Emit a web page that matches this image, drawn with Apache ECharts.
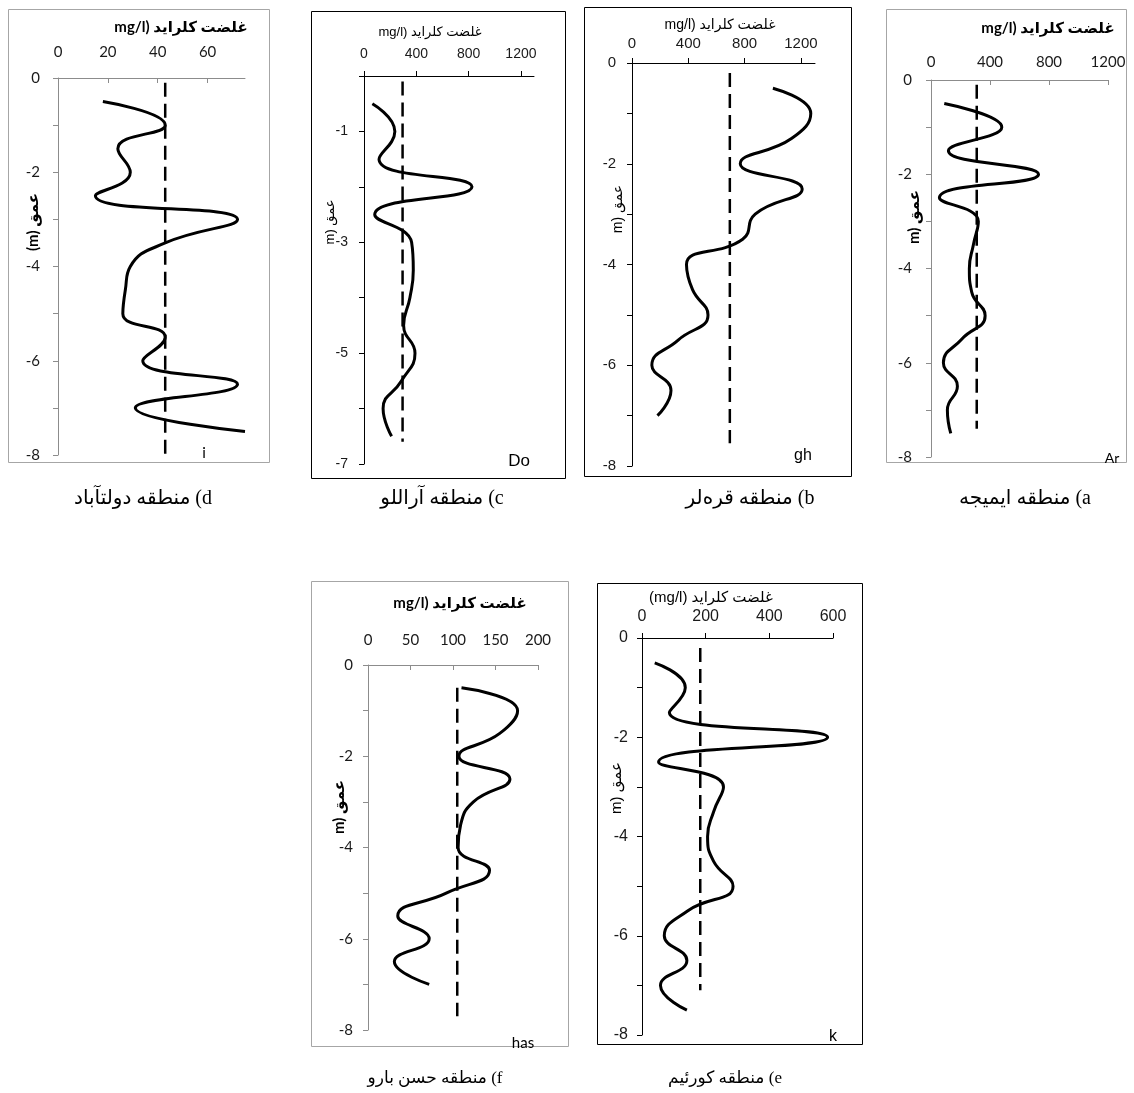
<!DOCTYPE html>
<html><head><meta charset="utf-8">
<script src="https://cdn.jsdelivr.net/npm/echarts@6/dist/echarts.min.js"></script>
<style>html,body{margin:0;padding:0;background:#fff}#c{width:1134px;height:1093px}</style>
</head><body><div id="c"></div>
<script>
// ---------- DATA ----------
// a) Imije
const depthsA = [-0.5,-1,-1.5,-2,-2.5,-3,-3.5,-4,-4.5,-5,-5.5,-6,-6.5,-7,-7.5];
const chlorideA = [90,480,118,729,57,321,287,260,276,367,208,84,179,111,134];
const meanA = 310;
const meanDepthA = [-0.1,-7.4];
const xTicksA = [0,400,800,1200];
const yTicksA = [0,-1,-2,-3,-4,-5,-6,-7,-8];
const yLabelsA = [0,-2,-4,-6,-8];
// b) Gharehlar
const depthsB = [-0.5,-1,-1.5,-2,-2.5,-3,-3.5,-4,-4.5,-5,-5.5,-6,-6.5,-7];
const chlorideB = [1001,1270,1133,769,1209,875,786,387,430,540,328,141,277,181];
const meanB = 695;
const meanDepthB = [-0.2,-7.55];
const xTicksB = [0,400,800,1200];
const yTicksB = [0,-1,-2,-3,-4,-5,-6,-7,-8];
const yLabelsB = [0,-2,-4,-6,-8];
// c) Arallu
const depthsC = [-0.5,-1,-1.5,-2,-2.5,-3,-3.5,-4,-4.5,-5,-5.5,-6,-6.5];
const chlorideC = [64,236,115,826,82,364,377,351,303,390,287,146,211];
const meanC = 295;
const meanDepthC = [-0.1,-6.6];
const xTicksC = [0,400,800,1200];
const yTicksC = [0,-1,-2,-3,-4,-5,-6,-7];
const yLabelsC = [-1,-3,-5,-7];
// d) Dowlatabad
const depthsD = [-0.5,-1,-1.5,-2,-2.5,-3,-3.5,-4,-4.5,-5,-5.5,-6,-6.5,-7,-7.5];
const chlorideD = [18,43,24,29,15,72,43,29,27,26,43,34,72,31,75];
const meanD = 43;
const meanDepthD = [-0.1,-8];
const xTicksD = [0,20,40,60];
const yTicksD = [0,-1,-2,-3,-4,-5,-6,-7,-8];
const yLabelsD = [0,-2,-4,-6,-8];
// e) Kureim
const depthsE = [-0.5,-1,-1.5,-2,-2.5,-3,-3.5,-4,-4.5,-5,-5.5,-6,-6.5,-7,-7.5];
const chlorideE = [40,136,86,583,52,256,225,206,225,286,143,70,141,58,141];
const meanE = 183;
const meanDepthE = [-0.2,-7.1];
const xTicksE = [0,200,400,600];
const yTicksE = [0,-1,-2,-3,-4,-5,-6,-7,-8];
const yLabelsE = [0,-2,-4,-6,-8];
// f) Hasan Baru
const depthsF = [-0.5,-1,-1.5,-2,-2.5,-3,-3.5,-4,-4.5,-5,-5.5,-6,-6.5,-7];
const chlorideF = [110,176,155,107,167,124,109,106,143,92,35,72,31,72];
const meanF = 105;
const meanDepthF = [-0.5,-7.7];
const xTicksF = [0,50,100,150,200];
const yTicksF = [0,-1,-2,-3,-4,-5,-6,-7,-8];
const yLabelsF = [0,-2,-4,-6,-8];

// texts
const titleMain = 'mg/l) غلضت کلراید';
const titleE = '(mg/l) غلضت کلراید';
const depthNameD = '(m) عمق';
const depthName = 'm) عمق';
const captions = {
  a:'منطقه ایمیجه (a', b:'منطقه قره‌لر (b', c:'منطقه آراللو (c',
  d:'منطقه دولتآباد (d', e:'منطقه کورئیم (e', f:'منطقه حسن بارو (f'
};
const codes = {a:'Ar', b:'gh', c:'Do', d:'i', e:'k', f:'has'};

// ---------- LAYOUT / STYLE ----------
const EX = "Lato, 'DejaVu Sans', sans-serif";
const AR = "'Liberation Sans', Arial, 'DejaVu Sans', sans-serif";
const SERIF = "'Liberation Serif', 'DejaVu Sans', serif";
const panels = [
  {id:'d', depth:depthsD, val:chlorideD, mean:meanD, md:meanDepthD, xt:xTicksD, yt:yTicksD, yl:yLabelsD,
   xMax:75, xInt:20, yMin:-8, g:[58,78,187,377], excel:true, fs:15, ff:EX, xm:18, ym:18,
   box:[8,9,261,453], title:[titleMain,181,27,'bold 15px '+EX], yname:[depthNameD,33,222,'bold 15px '+EX],
   code:[204,453,'15px '+EX], cap:[143,499,'20px '+SERIF]},
  {id:'c', depth:depthsC, val:chlorideC, mean:meanC, md:meanDepthC, xt:xTicksC, yt:yTicksC, yl:yLabelsC,
   xMax:1300, xInt:400, yMin:-7, g:[364,76,170,388], excel:false, fs:14, ff:AR, xm:15, ym:16,
   box:[311,11,254,467], title:[titleMain,430,32,'13px '+AR], yname:[depthName,330,222,'13px '+AR],
   code:[519,461,'17px '+AR], cap:[442,499,'20px '+SERIF]},
  {id:'b', depth:depthsB, val:chlorideB, mean:meanB, md:meanDepthB, xt:xTicksB, yt:yTicksB, yl:yLabelsB,
   xMax:1300, xInt:400, yMin:-8, g:[632,63,183,403], excel:false, fs:15, ff:AR, xm:12, ym:16,
   box:[584,7,267,469], title:[titleMain,720,25,'14px '+AR], yname:[depthName,618,209,'14px '+AR],
   code:[803,456,'16px '+AR], cap:[750,499,'20px '+SERIF]},
  {id:'a', depth:depthsA, val:chlorideA, mean:meanA, md:meanDepthA, xt:xTicksA, yt:yTicksA, yl:yLabelsA,
   xMax:1200, xInt:400, yMin:-8, g:[931,80,177,377], excel:true, fs:15, ff:EX, xm:10, ym:19,
   box:[886,9,240,453], title:[titleMain,1048,28,'bold 15px '+EX], yname:[depthName,914,217,'bold 15px '+EX],
   code:[1112,458,'14px '+EX], cap:[1025,499,'20px '+SERIF]},
  {id:'f', depth:depthsF, val:chlorideF, mean:meanF, md:meanDepthF, xt:xTicksF, yt:yTicksF, yl:yLabelsF,
   xMax:200, xInt:50, yMin:-8, g:[368,665,170,365], excel:true, fs:15, ff:EX, xm:17, ym:15,
   box:[311,581,257,465], title:[titleMain,460,603,'bold 15px '+EX], yname:[depthName,339,807,'bold 15px '+EX],
   code:[523,1043,'15px '+EX], cap:[435,1079,'17px '+SERIF]},
  {id:'e', depth:depthsE, val:chlorideE, mean:meanE, md:meanDepthE, xt:xTicksE, yt:yTicksE, yl:yLabelsE,
   xMax:600, xInt:200, yMin:-8, g:[642,638,191,397], excel:false, fs:16, ff:AR, xm:13, ym:14,
   box:[597,583,265,461], title:[titleE,711,598,'15px '+AR], yname:[depthName,617,788,'15px '+AR],
   code:[833,1037,'16px '+AR], cap:[725,1079,'17px '+SERIF]}
];

const grids=[], xAxes=[], yAxes=[], series=[], graphics=[];
panels.forEach((p,i)=>{
  const axCol = p.excel ? '#8c8c8c' : '#000';
  grids.push({left:p.g[0], top:p.g[1], width:p.g[2], height:p.g[3], outerBoundsMode:'none', containLabel:false});
  xAxes.push({type:'value', gridIndex:i, position:'top', min:0, max:p.xMax, interval:p.xInt,
    axisLine:{show:true, onZero:false, lineStyle:{color:axCol, width:1}},
    axisTick:{show:true, inside:p.excel, length:5, customValues:p.xt, lineStyle:{color:axCol}},
    axisLabel:{show:true, margin:p.xm, fontSize:p.fs, fontFamily:p.ff, color:'#1a1a1a', customValues:p.xt,
      formatter:v=>p.xt.includes(v)?String(v):''},
    splitLine:{show:false}});
  yAxes.push({type:'value', gridIndex:i, min:p.yMin, max:0, interval:1,
    axisLine:{show:true, onZero:false, lineStyle:{color:axCol, width:1}},
    axisTick:{show:true, inside:false, length:5, customValues:p.yt, lineStyle:{color:axCol}},
    axisLabel:{show:true, margin:p.ym, fontSize:p.fs, fontFamily:p.ff, color:'#1a1a1a', customValues:p.yl,
      formatter:v=>p.yl.includes(v)?String(v):''},
    splitLine:{show:false}});
  series.push({type:'line', xAxisIndex:i, yAxisIndex:i, smooth:0.5, symbol:'none', clip:false,
    data:p.depth.map((d,k)=>[p.val[k], d]), lineStyle:{color:'#000', width:3}, z:3});
  series.push({type:'line', xAxisIndex:i, yAxisIndex:i, symbol:'none', clip:false,
    data:p.md.map(d=>[p.mean, d]), lineStyle:{color:'#000', width:2.5, type:[14,7]}, z:2});
  graphics.push({type:'rect', shape:{x:p.box[0]+0.5, y:p.box[1]+0.5, width:p.box[2], height:p.box[3]},
    style:{fill:null, stroke:p.excel?'#a6a6a6':'#000', lineWidth:1}, z:-1, silent:true});
  graphics.push({type:'text', x:p.title[1], y:p.title[2], style:{text:p.title[0], font:p.title[3], fill:'#000', align:'center', verticalAlign:'middle'}});
  graphics.push({type:'text', x:p.yname[1], y:p.yname[2], rotation:Math.PI/2, style:{text:p.yname[0], font:p.yname[3], fill:'#000', align:'center', verticalAlign:'middle'}});
  graphics.push({type:'text', x:p.code[0], y:p.code[1], style:{text:codes[p.id], font:p.code[2], fill:'#000', align:'center', verticalAlign:'middle'}});
  graphics.push({type:'text', x:p.cap[0], y:p.cap[1], style:{text:captions[p.id], font:p.cap[2], fill:'#000', align:'center', verticalAlign:'middle'}});
});

const chart = echarts.init(document.getElementById('c'), null, {renderer:'canvas'});
chart.setOption({animation:false, backgroundColor:'#fff', grid:grids, xAxis:xAxes, yAxis:yAxes, series:series, graphic:graphics});
</script>
</body></html>
